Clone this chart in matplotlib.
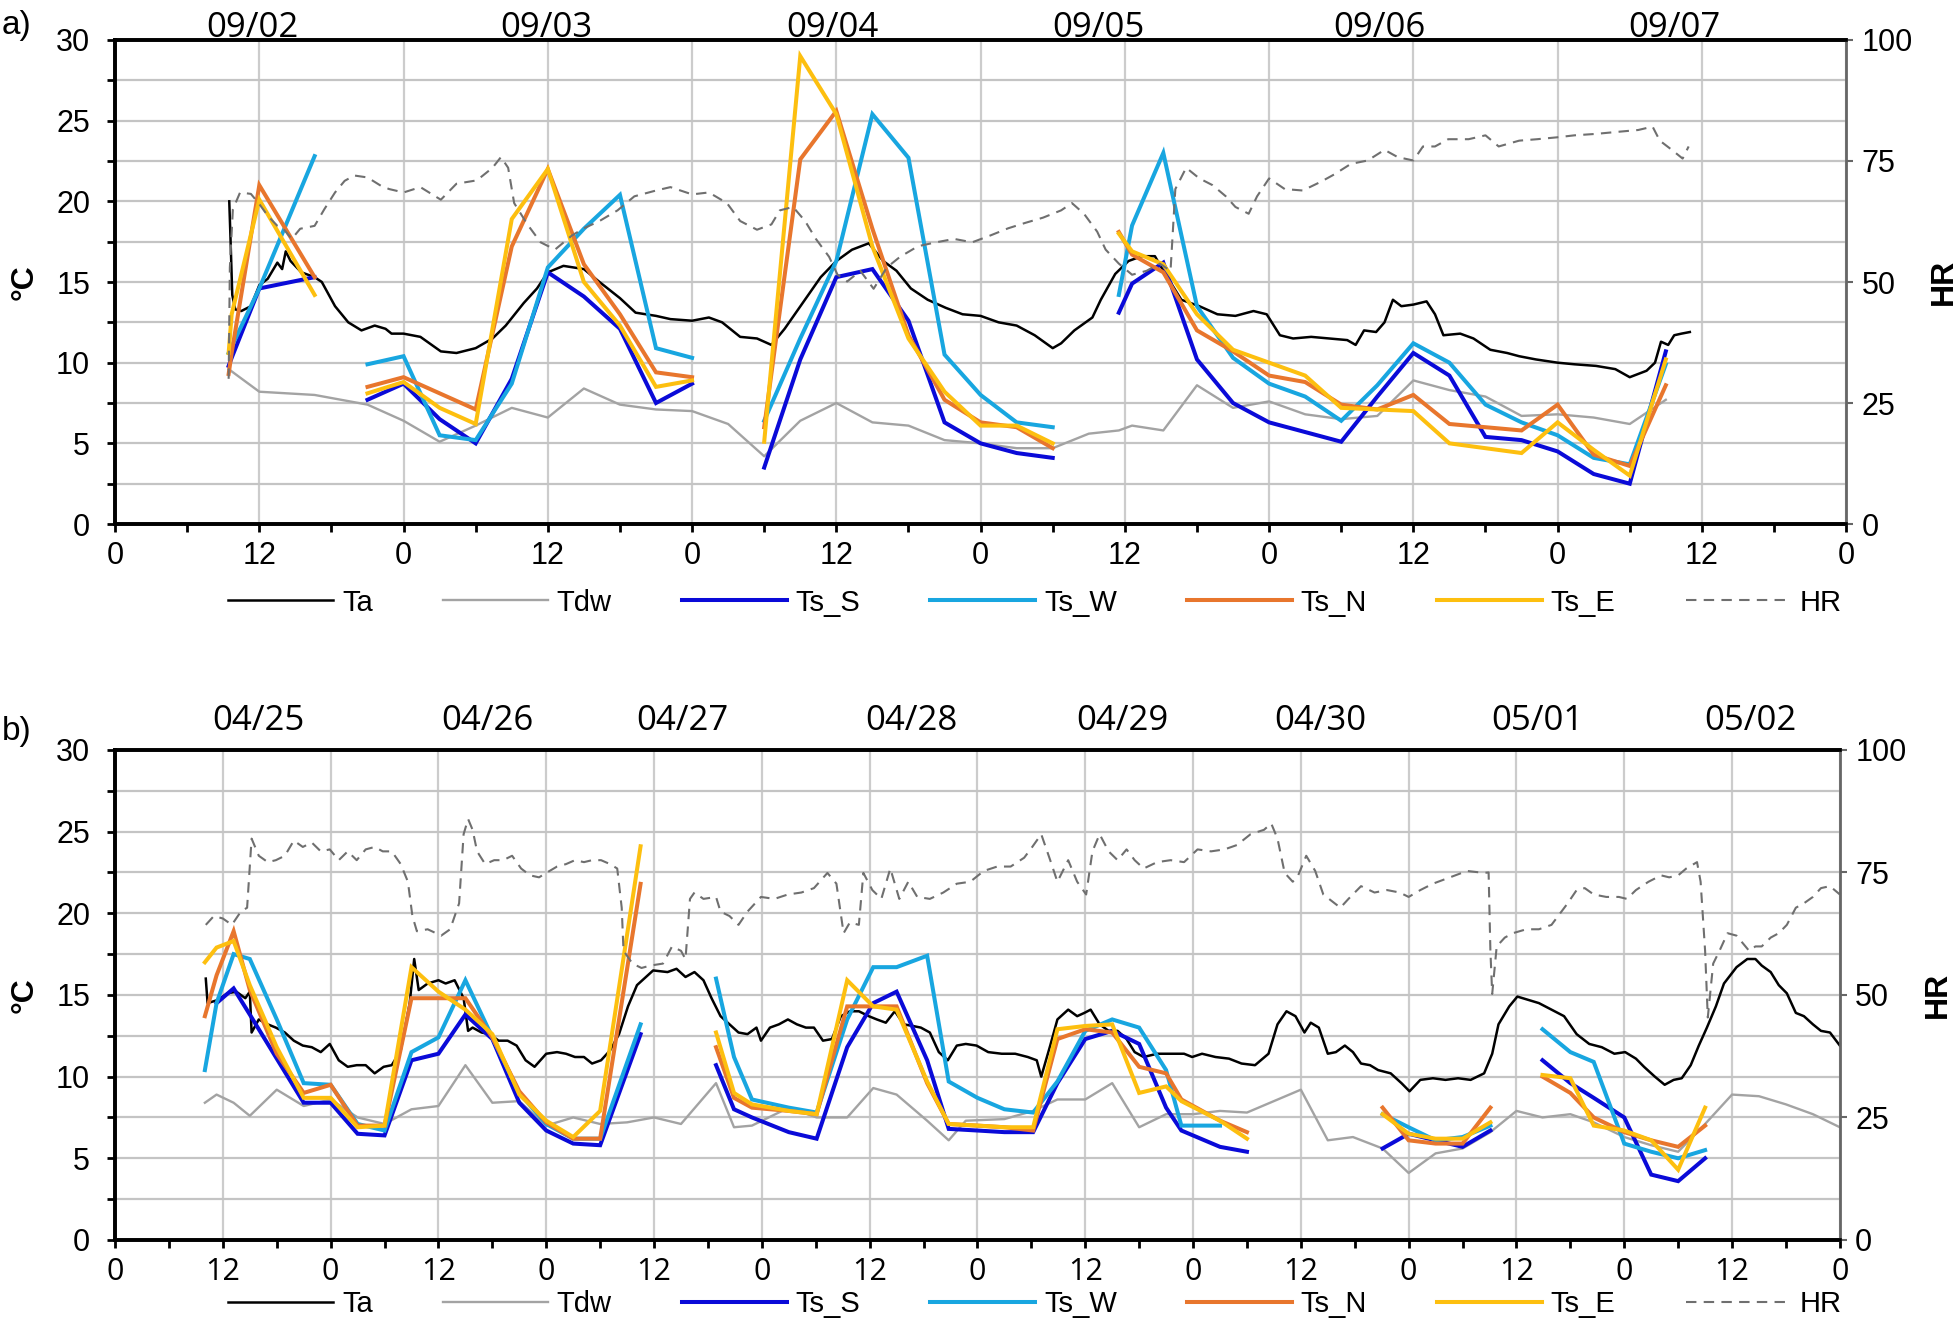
import numpy as np
import matplotlib.pyplot as plt

plt.rcParams['font.family'] = ['Liberation Sans', 'DejaVu Sans']

# ---------------- panel a : 09/02 - 09/07 (hours from 09/02 00:00) ----------------
a_ta_h = [9.5, 9.6, 9.75, 10.0, 10.5, 11.3, 12.0, 12.7, 13.5, 13.9, 14.2, 14.6, 15.5, 16.6, 17.2,
          18.3, 19.4, 20.5, 21.6, 22.5, 23.0, 24.0, 25.4, 27.1, 28.4, 30.0, 31.4, 32.5, 34.0, 35.1,
          36.0, 37.3, 39.0, 40.3, 42.0, 43.3, 45.0, 46.2, 48.0, 49.4, 50.5, 52.0, 53.4, 54.6, 55.7,
          57.2, 58.7, 60.0, 61.3, 62.7, 63.9, 65.0, 66.2, 67.6, 69.1, 70.5, 72.0, 73.5, 75.0, 76.5,
          78.0, 78.7, 79.8, 81.3, 82.0, 83.2, 84.3, 85.4, 86.5, 87.2, 88.7, 90.2, 91.7, 93.2, 94.7,
          95.8, 96.9, 98.0, 99.5, 101.0, 102.5, 103.2, 103.9, 104.9, 105.6, 106.3, 107.0, 108.0, 109.1, 109.8,
          110.5, 111.9, 113.0, 114.4, 115.8, 116.8, 118.2, 120.0, 121.4, 123.2, 124.8, 126.0, 127.4, 128.1, 128.6,
          129.2, 129.7, 130.3, 131.0]
a_ta_v = [20.0, 17.8, 14.2, 13.3, 13.2, 13.5, 14.8, 15.2, 16.2, 15.8, 16.9, 16.3, 15.6, 15.3, 15.0,
          13.5, 12.5, 12.0, 12.3, 12.1, 11.8, 11.8, 11.6, 10.7, 10.6, 10.9, 11.5, 12.3, 13.7, 14.6,
          15.6, 16.0, 15.8, 15.0, 14.0, 13.1, 12.9, 12.7, 12.6, 12.8, 12.5, 11.6, 11.5, 11.1, 12.1,
          13.7, 15.3, 16.3, 17.0, 17.4, 16.3, 15.7, 14.6, 13.9, 13.4, 13.0, 12.9, 12.5, 12.3, 11.7,
          10.9, 11.2, 12.0, 12.8, 13.9, 15.5, 16.3, 16.6, 16.6, 15.7, 13.9, 13.5, 13.0, 12.9, 13.2,
          13.0, 11.7, 11.5, 11.6, 11.5, 11.4, 11.1, 12.0, 11.9, 12.5, 13.9, 13.5, 13.6, 13.8, 13.0,
          11.7, 11.8, 11.5, 10.8, 10.6, 10.4, 10.2, 10.0, 9.9, 9.8, 9.6, 9.1, 9.5, 10.0, 11.3,
          11.1, 11.7, 11.8, 11.9]

a_hr_h = [9.45, 9.55, 9.8, 10.4, 11.3, 12.0, 12.7, 13.5, 14.0, 14.7, 15.4, 16.6, 17.4, 18.3, 19.1,
          19.9, 21.0, 22.1, 22.8, 24.0, 25.4, 27.1, 28.4, 30.1, 31.4, 32.1, 32.7, 33.2, 34.3, 35.4,
          36.6, 38.0, 39.0, 40.3, 41.8, 43.2, 45.0, 46.2, 48.0, 49.4, 50.9, 52.0, 53.4, 54.6, 55.3,
          56.4, 57.4, 58.3, 59.4, 60.1, 60.9, 62.0, 63.1, 64.2, 65.3, 66.8, 68.3, 69.8, 71.3, 72.8,
          74.3, 75.7, 77.2, 78.7, 79.6, 80.6, 81.7, 82.4, 83.5, 84.6, 85.8, 86.9, 87.8, 88.2, 89.1,
          90.2, 91.3, 92.4, 93.2, 94.3, 95.0, 96.0, 97.3, 98.8, 100.3, 101.4, 102.8, 104.2, 105.6, 106.7,
          108.0, 108.8, 109.8, 110.9, 112.6, 114.0, 115.1, 116.8, 118.3, 120.0, 121.4, 123.2, 124.9, 126.7, 127.9,
          128.5, 129.5, 130.4, 130.9]
a_hr_v = [30.0, 53.0, 65.0, 68.5, 68.2, 66.1, 63.7, 61.6, 61.0, 58.9, 61.0, 61.6, 65.0, 68.5, 70.9,
          72.0, 71.6, 69.9, 69.2, 68.5, 69.6, 67.0, 70.3, 71.0, 73.6, 75.8, 73.6, 66.3, 61.9, 58.2,
          56.7, 59.6, 61.1, 62.6, 64.8, 67.7, 68.9, 69.6, 68.1, 68.5, 66.3, 62.6, 60.8, 61.9, 64.8,
          65.5, 62.6, 58.9, 55.2, 51.5, 50.1, 52.3, 48.6, 53.0, 55.2, 57.4, 58.2, 58.9, 58.2, 59.6,
          61.1, 62.2, 63.3, 64.8, 66.3, 64.1, 60.4, 56.7, 53.8, 51.5, 52.3, 53.8, 52.3, 69.2, 73.6,
          71.4, 70.0, 67.7, 65.5, 64.1, 67.7, 71.4, 69.2, 68.9, 70.7, 72.2, 74.4, 75.1, 77.3, 75.8,
          75.1, 78.0, 78.0, 79.5, 79.5, 80.3, 78.0, 79.2, 79.5, 79.9, 80.3, 80.6, 81.0, 81.4, 82.1,
          79.2, 77.3, 75.5, 78.0]

a_tdw_h = [9.45, 12, 16.6, 21, 24, 27, 30, 33, 36, 39, 42, 45, 48, 51, 54, 57, 60, 63, 66, 69,
           72, 75, 78, 81, 83.5, 84.6, 87.2, 90, 93, 96, 99, 102, 105, 108, 111, 114, 117, 120, 123, 126, 129]
a_tdw_v = [9.6, 8.2, 8.0, 7.4, 6.4, 5.1, 6.1, 7.2, 6.6, 8.4, 7.4, 7.1, 7.0, 6.2, 4.2, 6.4, 7.5, 6.3, 6.1, 5.2,
           5.0, 4.7, 4.7, 5.6, 5.8, 6.1, 5.8, 8.6, 7.2, 7.6, 6.8, 6.5, 6.7, 8.9, 8.3, 7.9, 6.7, 6.8, 6.6, 6.2, 7.7]

# surface temperatures, None = no measurement (gap between campaigns)
a_ts_h = [9.45, 9.7, 12, 16.6, None,
          21, 24, 27, 30, 33, 36, 39, 42, 45, 48, None,
          54, 57, 60, 63, 66, 69, 72, 75, 78, None,
          83.5, 84.6, 87.2, 90, 93, 96, 99, 102, 105, 108, 111, 114, 117, 120, 123, 126, 129]
a_ts_s = [9.8, 10.3, 14.6, 15.3, None,
          7.7, 8.7, 6.5, 5.0, 9.0, 15.6, 14.1, 12.1, 7.5, 8.7, None,
          3.5, 10.2, 15.3, 15.8, 12.6, 6.3, 5.0, 4.4, 4.1, None,
          13.1, 14.9, 16.2, 10.2, 7.5, 6.3, 5.7, 5.1, 7.9, 10.6, 9.2, 5.4, 5.2, 4.5, 3.1, 2.5, 10.7]
a_ts_w = [10.6, 11.0, 14.6, 22.8, None,
          9.9, 10.4, 5.5, 5.2, 8.7, 15.9, 18.3, 20.4, 10.9, 10.3, None,
          6.4, 11.5, 16.3, 25.4, 22.7, 10.5, 8.0, 6.3, 6.0, None,
          14.2, 18.5, 23.0, 13.5, 10.3, 8.7, 7.9, 6.4, 8.6, 11.2, 10.0, 7.4, 6.3, 5.5, 4.1, 3.7, 9.9]
a_ts_n = [9.3, 10.6, 21.0, 15.3, None,
          8.5, 9.1, 8.1, 7.1, 17.2, 22.0, 16.1, 13.0, 9.4, 9.1, None,
          6.0, 22.6, 25.6, 18.3, 11.7, 7.7, 6.3, 6.0, 4.7, None,
          18.1, 16.7, 15.6, 12.0, 10.7, 9.2, 8.8, 7.4, 7.1, 8.0, 6.2, 6.0, 5.8, 7.4, 4.3, 3.6, 8.6]
a_ts_e = [10.6, 13.0, 20.1, 14.2, None,
          8.1, 8.8, 7.2, 6.2, 18.9, 22.0, 15.0, 12.3, 8.5, 8.9, None,
          5.1, 29.0, 25.4, 17.2, 11.5, 8.2, 6.1, 6.1, 5.0, None,
          18.0, 16.9, 16.1, 13.0, 10.8, 10.0, 9.2, 7.2, 7.1, 7.0, 5.0, 4.7, 4.4, 6.3, 4.6, 3.0, 10.2]

a_dates = ['09/02', '09/03', '09/04', '09/05', '09/06', '09/07']
a_date_h = [11.4, 35.9, 59.7, 81.8, 105.2, 129.7]

# ---------------- panel b : 04/25 - 05/02 (hours from 04/25 00:00) ----------------
b_ta_h = [10.1, 10.3, 11.5, 12.5, 13.5, 14.5, 15.0, 15.2, 16.0, 17.0,
          17.9, 18.9, 19.9, 20.9, 21.9, 22.9, 23.9, 24.9, 25.9, 26.9,
          27.9, 28.9, 29.9, 30.8, 31.8, 32.8, 33.3, 33.8, 34.8, 36.0,
          36.8, 37.8, 38.8, 39.3, 39.8, 40.8, 41.7, 42.7, 43.7, 44.7,
          45.7, 46.7, 48.0, 49.2, 50.2, 51.2, 52.2, 53.1, 54.1, 55.1,
          56.1, 57.1, 58.1, 59.1, 59.9, 61.5, 62.5, 63.5, 64.5, 65.5,
          66.4, 67.4, 68.4, 69.4, 70.4, 71.4, 71.9, 72.9, 73.9, 74.9,
          75.9, 76.9, 77.8, 78.8, 79.8, 80.8, 81.8, 82.8, 83.9, 84.8,
          85.8, 86.8, 87.8, 88.8, 89.7, 90.7, 91.7, 92.7, 93.7, 94.7,
          95.9, 97.2, 98.7, 100.2, 101.6, 102.6, 103.1, 104.1, 104.9, 106.1,
          107.1, 107.9, 108.6, 109.6, 110.6, 111.6, 112.6, 113.5, 114.5, 116.0,
          117.5, 119.0, 119.9, 121.0, 122.5, 124.0, 125.4, 126.9, 128.4, 129.4,
          130.4, 131.4, 132.4, 133.1, 134.0, 135.0, 135.9, 136.9, 137.8, 138.7,
          139.7, 140.6, 142.0, 143.2, 144.1, 145.3, 146.7, 148.1, 149.5, 150.9,
          152.4, 153.3, 154.0, 155.2, 156.1, 157.3, 158.5, 159.9, 161.3, 162.7,
          164.1, 165.5, 166.9, 168.1, 169.3, 170.2, 171.4, 172.5, 173.5, 174.4,
          175.4, 176.3, 177.2, 178.2, 179.1, 180.5, 181.7, 182.6, 183.3, 184.3,
          185.2, 186.1, 187.1, 188.0, 189.0, 189.9, 190.9, 192.0]
b_ta_v = [16.0, 14.5, 14.7, 15.1, 15.2, 14.8, 15.2, 12.7, 13.5, 13.2,
          13.0, 12.7, 12.2, 11.9, 11.8, 11.5, 12.0, 11.0, 10.6, 10.7,
          10.7, 10.2, 10.6, 10.7, 11.6, 14.5, 17.2, 15.3, 15.7, 15.9,
          15.7, 15.9, 14.8, 12.8, 13.0, 12.7, 12.6, 12.2, 12.2, 11.9,
          11.0, 10.6, 11.4, 11.5, 11.4, 11.2, 11.2, 10.8, 11.0, 11.6,
          12.6, 14.3, 15.6, 16.1, 16.5, 16.4, 16.6, 16.1, 16.4, 15.9,
          14.8, 13.7, 13.2, 12.7, 12.6, 13.0, 12.2, 13.0, 13.2, 13.5,
          13.2, 13.0, 13.0, 12.2, 12.3, 13.7, 14.0, 14.0, 13.7, 13.5,
          13.3, 14.0, 13.2, 13.1, 13.0, 12.7, 11.5, 11.0, 11.9, 12.0,
          11.9, 11.5, 11.4, 11.4, 11.2, 11.0, 10.0, 11.9, 13.5, 14.1,
          13.7, 13.9, 14.1, 13.2, 12.8, 12.8, 12.3, 11.5, 11.2, 11.4,
          11.4, 11.4, 11.2, 11.4, 11.2, 11.1, 10.8, 10.7, 11.4, 13.2,
          14.0, 13.7, 12.7, 13.3, 13.0, 11.4, 11.5, 11.9, 11.5, 10.8,
          10.7, 10.4, 10.2, 9.6, 9.1, 9.8, 9.9, 9.8, 9.9, 9.8,
          10.2, 11.4, 13.2, 14.3, 14.9, 14.7, 14.5, 14.1, 13.7, 12.6,
          12.0, 11.8, 11.4, 11.5, 11.1, 10.6, 10.0, 9.5, 9.8, 9.9,
          10.7, 11.9, 13.0, 14.3, 15.7, 16.7, 17.2, 17.2, 16.8, 16.4,
          15.6, 15.1, 13.9, 13.7, 13.2, 12.8, 12.7, 11.9]

b_hr_h = [10.1, 11.0, 12.0, 13.0, 14.0, 14.7, 15.2, 16.0, 17.0, 17.9,
          18.9, 19.9, 20.9, 21.9, 22.9, 23.9, 24.9, 25.9, 26.9, 27.9,
          28.9, 29.8, 30.8, 31.8, 32.6, 33.1, 33.6, 34.8, 36.3, 37.3,
          38.3, 38.8, 39.3, 39.8, 40.3, 41.2, 42.2, 43.2, 44.2, 45.2,
          46.2, 47.2, 48.0, 49.2, 50.2, 51.2, 52.2, 53.1, 54.1, 55.1,
          55.9, 56.4, 56.6, 57.6, 58.6, 59.6, 61.0, 62.0, 63.0, 63.5,
          64.0, 64.5, 65.5, 66.9, 67.4, 68.4, 69.4, 70.4, 71.9, 73.4,
          74.9, 76.4, 77.8, 79.3, 80.3, 81.1, 81.8, 82.8, 83.3, 84.3,
          85.3, 86.3, 87.3, 88.3, 89.3, 90.7, 92.2, 93.7, 95.2, 96.7,
          98.2, 99.7, 101.2, 102.1, 103.1, 104.1, 104.9, 106.1, 107.1, 108.1,
          108.8, 109.6, 110.6, 111.6, 112.6, 113.5, 114.5, 116.0, 117.5, 119.0,
          120.5, 122.0, 123.5, 124.9, 126.4, 127.9, 128.7, 129.4, 130.2, 131.1,
          131.7, 132.6, 133.6, 134.5, 136.4, 137.3, 138.7, 140.2, 141.6, 143.0,
          144.0, 145.3, 146.7, 148.6, 150.5, 152.4, 152.9, 153.1, 153.3, 153.8,
          154.7, 155.6, 157.1, 158.5, 159.9, 160.8, 161.7, 162.7, 163.6, 164.6,
          166.0, 167.4, 168.3, 169.3, 170.7, 172.1, 173.0, 174.0, 174.9, 176.1,
          176.5, 177.0, 177.3, 177.9, 178.6, 179.5, 180.5, 181.5, 181.9, 182.6,
          183.3, 184.3, 185.2, 186.1, 187.1, 188.0, 189.0, 189.9, 190.9, 192.0]
b_hr_v = [64.3, 66.1, 65.6, 64.3, 67.0, 67.8, 81.9, 78.4, 77.1, 77.5,
          78.4, 81.5, 80.2, 81.1, 79.3, 79.7, 77.5, 79.3, 77.5, 79.7,
          80.2, 79.3, 79.3, 76.7, 73.1, 66.1, 63.0, 63.4, 62.1, 63.4,
          68.7, 82.8, 85.9, 83.7, 79.3, 76.7, 77.5, 77.5, 78.4, 75.8,
          74.4, 74.0, 74.9, 76.2, 76.7, 77.5, 77.1, 77.5, 77.5, 76.7,
          75.8, 67.8, 59.0, 56.4, 55.5, 56.0, 56.4, 59.9, 59.0, 57.3,
          69.6, 70.9, 69.6, 70.0, 67.0, 66.1, 64.3, 67.0, 70.0, 69.6,
          70.5, 70.9, 71.8, 74.9, 72.7, 62.6, 64.8, 64.3, 74.9, 71.4,
          69.6, 75.8, 69.6, 73.1, 70.0, 69.6, 70.9, 72.7, 73.1, 75.3,
          76.2, 76.2, 78.0, 80.2, 82.8, 77.5, 73.1, 77.5, 73.1, 70.5,
          79.3, 82.8, 79.3, 77.5, 79.7, 77.5, 75.8, 77.1, 77.5, 77.1,
          79.7, 79.3, 79.7, 80.6, 82.8, 83.7, 85.0, 81.9, 74.9, 73.1,
          74.4, 78.4, 75.3, 70.5, 67.8, 69.6, 72.2, 70.9, 71.4, 70.9,
          70.0, 71.4, 72.7, 74.0, 75.3, 74.9, 75.0, 59.0, 50.2, 59.9,
          61.7, 62.6, 63.4, 63.4, 64.3, 66.5, 68.7, 71.4, 71.8, 70.5,
          70.0, 70.0, 69.6, 71.4, 73.1, 74.4, 74.0, 74.4, 75.8, 77.1,
          73.1, 59.0, 45.4, 56.4, 59.0, 62.6, 62.1, 59.9, 59.0, 59.9,
          59.9, 61.7, 62.6, 64.3, 67.8, 68.7, 70.0, 71.8, 72.2, 70.5]

b_tdw_h = [10, 11.3, 13.2, 15, 18, 21, 24, 27, 30, 33, 36, 39, 42, 45, 48, 51, 54, 57, 60, 63,
           66.9, 68.9, 70.9, 75, 78.1, 81.5, 84.4, 87, 90.4, 92.8, 94.7, 99, 102.2, 104.9, 108, 111,
           114, 117, 120, 123, 126, 129, 132, 135, 137.8, 141.1, 144, 147, 150, 153.1, 156, 158.9,
           162, 164.6, 168, 171, 174, 177, 180, 183, 186, 189, 192]
b_tdw_v = [8.4, 8.9, 8.4, 7.6, 9.2, 8.2, 8.6, 7.5, 7.1, 8.0, 8.2, 10.7, 8.4, 8.5, 7.0, 7.5, 7.1, 7.2, 7.5, 7.1,
           9.6, 6.9, 7.0, 8.1, 7.5, 7.5, 9.3, 8.9, 7.3, 6.1, 7.3, 7.4, 7.9, 8.6, 8.6, 9.6,
           6.9, 7.7, 7.7, 7.9, 7.8, 8.5, 9.2, 6.1, 6.3, 5.6, 4.1, 5.3, 5.6, 6.6, 7.9, 7.5,
           7.7, 7.2, 6.3, 5.8, 5.4, 7.1, 8.9, 8.8, 8.3, 7.7, 6.9]

b_ts_h = [10, 11.3, 13.2, 15, 18, 21, 24, 27, 30, 33, 36, 39, 42, 45, 48, 51, 54, 58.5, None,
          66.9, 68.9, 70.9, 75, 78.1, 81.5, 84.4, 87, 90.4, 92.8, 96, 99, 102.2, 104.9, 108, 111,
          114, 117, 118.7, 123, 126, None,
          141.1, 144, 147, 150, 153.1, None,
          158.9, 162, 164.6, 168, 171, 174, 177]
b_ts_s = [None, 14.5, 15.4, 13.8, 11.1, 8.4, 8.4, 6.5, 6.4, 11.0, 11.4, 13.8, 12.3, 8.4, 6.7, 5.9, 5.8, 12.6, None,
          10.7, 8.0, 7.5, 6.6, 6.2, 11.8, 14.5, 15.2, 11.0, 6.8, 6.7, 6.6, 6.6, 9.6, 12.3, 12.8,
          12.0, 8.1, 6.7, 5.7, 5.4, None,
          5.6, 6.5, 6.1, 5.7, 6.7, None,
          11.0, 9.6, 8.7, 7.5, 4.0, 3.6, 5.0]
b_ts_w = [10.4, 14.5, 17.5, 17.2, 13.5, 9.6, 9.5, 7.1, 6.7, 11.5, 12.4, 15.9, 12.4, 9.0, 7.1, 6.2, 6.2, 13.2, None,
          16.0, 11.2, 8.6, 8.1, 7.8, 13.5, 16.7, 16.7, 17.4, 9.7, 8.7, 8.0, 7.8, 9.7, 12.8, 13.5,
          13.0, 10.4, 7.0, 7.0, None, None,
          7.7, 6.9, 6.1, 6.3, 7.0, None,
          12.9, 11.5, 10.9, 5.9, 5.4, 5.0, 5.5]
b_ts_n = [13.7, 16.2, 18.9, 15.3, 11.4, 9.0, 9.5, 7.0, 7.0, 14.8, 14.8, 14.8, 12.4, 9.1, 7.2, 6.2, 6.2, 21.8, None,
          11.8, 8.7, 8.1, 7.9, 7.7, 14.3, 14.3, 14.3, 9.6, 7.1, 7.0, 6.9, 6.7, 12.3, 12.9, 12.7,
          10.6, 10.2, 8.6, 7.3, 6.6, None,
          8.1, 6.1, 5.9, 5.9, 8.1, None,
          10.0, 9.0, 7.5, 6.6, 6.1, 5.7, 7.0]
b_ts_e = [17.0, 17.9, 18.3, 15.6, 11.8, 8.7, 8.7, 6.9, 7.0, 16.7, 15.2, 14.1, 12.6, 8.9, 7.3, 6.3, 7.9, 24.1, None,
          12.7, 9.0, 8.3, 7.9, 7.7, 15.9, 14.3, 14.1, 9.7, 7.1, 7.0, 6.9, 6.9, 12.9, 13.1, 13.2,
          9.0, 9.4, 8.5, 7.3, 6.2, None,
          7.7, 6.5, 6.2, 6.2, 7.2, None,
          10.1, 9.9, 7.0, 6.7, 6.1, 4.3, 8.1]

b_dates = ['04/25', '04/26', '04/27', '04/28', '04/29', '04/30', '05/01', '05/02']
b_date_h = [15.9, 41.4, 63.2, 88.6, 112.1, 134.2, 158.3, 182.0]

labels = ['Ta', 'Tdw', 'Ts_S', 'Ts_W', 'Ts_N', 'Ts_E', 'HR']
colors = ['black', '#a3a3a3', '#0a0ad8', '#18a6e0', '#e8762d', '#fdbf0f', '#6f6f6f']


def f(x):
    return np.array(x, dtype=float)


def draw_panel(rect, xmax, ta, hr, tdw, ts_h, ts, dates, date_h, date_y, xfont):
    ax = fig.add_axes(rect)
    ax2 = ax.twinx()

    lines = []
    lines += ax.plot(f(ta[0]), f(ta[1]), color=colors[0], lw=1.8)
    lines += ax.plot(f(tdw[0]), f(tdw[1]), color=colors[1], lw=1.7)
    for i, v in enumerate(ts):
        lines += ax.plot(f(ts_h), f(v), color=colors[2 + i], lw=2.9, solid_joinstyle='miter')
    lines += ax2.plot(f(hr[0]), f(hr[1]), color=colors[6], lw=1.5, dashes=(5, 3.5))

    ax.set_xlim(0, xmax)
    ax.set_ylim(0, 30)
    ax2.set_ylim(0, 100)

    ax.set_xticks(np.arange(0, xmax + 1, 12))
    ax.set_xticklabels(['0' if h % 24 == 0 else '12' for h in range(0, xmax + 1, 12)],
                       family=xfont)
    ax.set_xticks(np.arange(0, xmax + 1, 6), minor=True)
    ax.set_yticks(np.arange(0, 31, 5))
    ax.set_yticks(np.arange(0, 30.1, 2.5), minor=True)
    ax2.set_yticks([0, 25, 50, 75, 100])

    ax.grid(True, which='major', axis='x', color='#cccccc', lw=1.6)
    ax.grid(True, which='both', axis='y', color='#c4c4c4', lw=1.6)
    ax.set_axisbelow(True)

    ax.tick_params(axis='both', which='both', direction='out', length=6, width=2, labelsize=22)
    ax.tick_params(axis='y', pad=12)
    ax.tick_params(axis='x', pad=6)
    ax2.tick_params(axis='y', direction='out', length=5, width=1.5, color='#666666',
                    labelsize=22, pad=6)

    for s in ['left', 'bottom', 'top']:
        ax.spines[s].set_linewidth(2.6)
        ax2.spines[s].set_linewidth(2.6)
    ax2.spines['right'].set_color('#666666')
    ax2.spines['right'].set_linewidth(2)
    ax.spines['right'].set_visible(False)

    ax.set_ylabel('°C', fontsize=23, fontweight='bold', labelpad=12)
    ax2.set_ylabel('HR', fontsize=23, fontweight='bold', labelpad=12)

    for d, h in zip(dates, date_h):
        ax.text(h, date_y, d, ha='center', va='baseline', fontsize=25,
                family=['Open Sans', 'DejaVu Sans'])
    return lines


fig = plt.figure(figsize=(19.6, 13.28), dpi=100)

lines_a = draw_panel([0.0587, 0.6054, 0.8832, 0.3645], 144,
                     (a_ta_h, a_ta_v), (a_hr_h, a_hr_v), (a_tdw_h, a_tdw_v),
                     a_ts_h, [a_ts_s, a_ts_w, a_ts_n, a_ts_e],
                     a_dates, a_date_h, 30.2, ['Liberation Sans'])
lines_b = draw_panel([0.0587, 0.0663, 0.8800, 0.3690], 192,
                     (b_ta_h, b_ta_v), (b_hr_h, b_hr_v), (b_tdw_h, b_tdw_v),
                     b_ts_h, [b_ts_s, b_ts_w, b_ts_n, b_ts_e],
                     b_dates, b_date_h, 31.2, ['Open Sans', 'DejaVu Sans'])

for lines, y in [(lines_a, 0.5463), (lines_b, 0.0181)]:
    fig.legend(lines, labels, loc='center', bbox_to_anchor=(0.528, y), ncol=7,
               frameon=False, fontsize=21, handlelength=3.6, handletextpad=0.3,
               columnspacing=2.4, borderpad=0, borderaxespad=0)

fig.text(0.001, 0.981, 'a)', fontsize=24, va='center')
fig.text(0.001, 0.4495, 'b)', fontsize=24, va='center')

fig.savefig('out.png', dpi=100)
